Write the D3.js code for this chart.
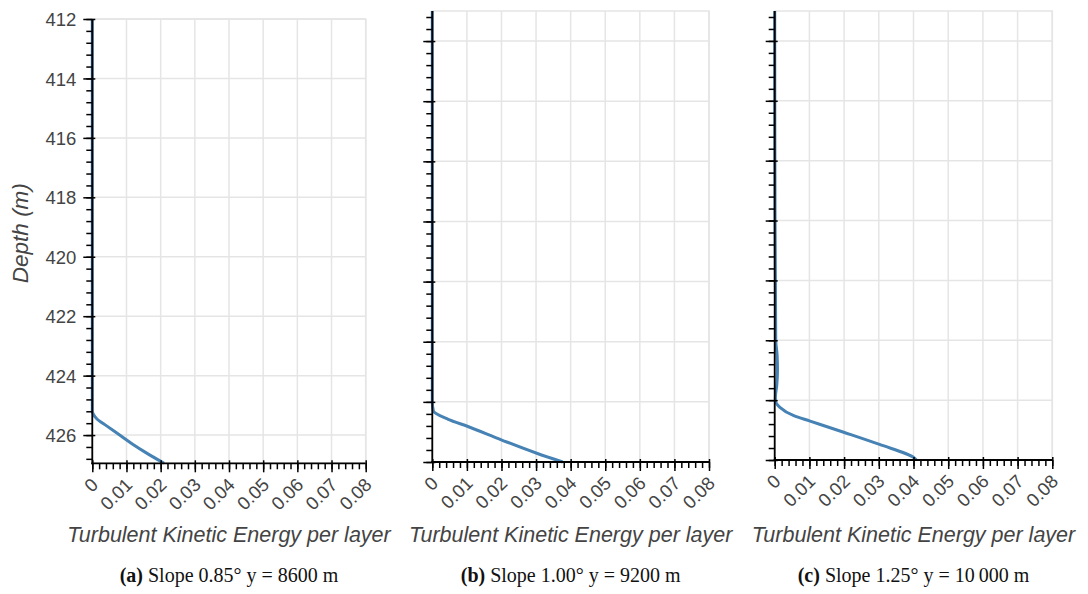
<!DOCTYPE html>
<html>
<head>
<meta charset="utf-8">
<script src="https://cdn.jsdelivr.net/npm/d3@7"></script>
<style>
  html, body { margin: 0; padding: 0; background: #fff; }
  svg { display: block; }
  .tick text { font-family: "Liberation Sans", Arial, Helvetica, sans-serif; fill: #444; }
  .axis-title { font-family: "Liberation Sans", Arial, Helvetica, sans-serif; font-style: italic; fill: #444; }
  .caption { font-family: "Liberation Serif", "DejaVu Serif", serif; fill: #111; font-variant-numeric: oldstyle-nums; }
</style>
</head>
<body>
<svg id="chart" width="1088" height="594"></svg>
<script>
// Turbulent kinetic energy profiles near the bed, one per slope case.
const depthA = [412, 424, 425.2, 425.3, 425.45, 425.7, 426.0, 426.3, 426.6, 426.95];
const tkeA   = [0, 0, 0, 0.0003, 0.0013, 0.0043, 0.0080, 0.0117, 0.0158, 0.0210];

const depthB = [413, 426.0, 426.3, 426.58, 426.82, 427.27, 427.71, 428];
const tkeB   = [0, 0, 0.0003, 0.0046, 0.0103, 0.0201, 0.0302, 0.0377];

const depthC = [413, 420, 424.0, 424.5, 425.0, 425.5, 425.9, 426.0, 426.24, 426.52, 426.70, 427.08, 427.48, 427.92, 428];
const tkeC   = [0, 0.0001, 0.0003, 0.0007, 0.0008, 0.0006, 0.0002, 0.0002, 0.0015, 0.0055, 0.0102, 0.0201, 0.0302, 0.0401, 0.0408];

const xTicks = [0, 0.01, 0.02, 0.03, 0.04, 0.05, 0.06, 0.07, 0.08];
const xTickLabels = ["0", "0.01", "0.02", "0.03", "0.04", "0.05", "0.06", "0.07", "0.08"];
const yTicksA = [412, 414, 416, 418, 420, 422, 424, 426];
const yTicksBC = [414, 416, 418, 420, 422, 424, 426, 428];

const xTitle = "Turbulent Kinetic Energy per layer";
const yTitle = "Depth (m)";
const captionLetters = ["(a)", "(b)", "(c)"];
const captionTexts = [" Slope 0.85° y = 8600 m", " Slope 1.00° y = 9200 m", " Slope 1.25° y = 10\u2009000 m"];

// Frame geometry for the three side-by-side panels.
const panels = [
  { depth: depthA, tke: tkeA, yDomain: [412, 426.95], yTicks: yTicksA, labels: true,
    left: 92.3, right: 365.7, top: 19, bottom: 463.3 },
  { depth: depthB, tke: tkeB, yDomain: [413, 428], yTicks: yTicksBC, labels: false,
    left: 432.3, right: 709, top: 11, bottom: 462 },
  { depth: depthC, tke: tkeC, yDomain: [413, 428], yTicks: yTicksBC, labels: false,
    left: 774.7, right: 1052.3, top: 11, bottom: 460 }
];

const svg = d3.select("#chart");
const gridColor = "#e5e5e5";
const lineColor = "#4682b4";

function minorValues(domain, step) {
  const out = [];
  const start = Math.ceil(domain[0] / step - 1e-6);
  const end = Math.floor(domain[1] / step + 1e-6);
  for (let i = start; i <= end; i++) out.push(+(i * step).toFixed(6));
  return out;
}

panels.forEach((p, i) => {
  const x = d3.scaleLinear().domain([0, 0.08]).range([p.left, p.right]);
  const y = d3.scaleLinear().domain(p.yDomain).range([p.top, p.bottom]);
  const g = svg.append("g");

  // grid
  g.append("g").selectAll("line").data(xTicks).join("line")
    .attr("x1", d => x(d)).attr("x2", d => x(d))
    .attr("y1", p.top).attr("y2", p.bottom)
    .attr("stroke", gridColor).attr("stroke-width", 1.5);
  g.append("g").selectAll("line").data(p.yTicks.filter(v => v >= p.yDomain[0] && v <= p.yDomain[1])).join("line")
    .attr("x1", p.left).attr("x2", p.right)
    .attr("y1", d => y(d)).attr("y2", d => y(d))
    .attr("stroke", gridColor).attr("stroke-width", 1.5);
  g.append("rect")
    .attr("x", p.left).attr("y", p.top)
    .attr("width", p.right - p.left).attr("height", p.bottom - p.top)
    .attr("fill", "none").attr("stroke", gridColor).attr("stroke-width", 1.5);

  // profile
  const pts = p.depth.map((d, k) => [p.tke[k], d]);
  g.append("path")
    .datum(pts)
    .attr("fill", "none")
    .attr("stroke", lineColor)
    .attr("stroke-width", 3)
    .attr("stroke-linejoin", "round")
    .attr("d", d3.line().x(d => x(d[0])).y(d => y(d[1])).curve(d3.curveMonotoneY));

  // minor ticks
  g.append("g")
    .attr("transform", `translate(0,${p.bottom})`)
    .call(d3.axisBottom(x).tickValues(minorValues([0, 0.08], 0.002)).tickSize(6).tickFormat(""))
    .call(s => s.select(".domain").remove())
    .call(s => s.selectAll("line").attr("stroke", "#000").attr("stroke-width", 1.5));
  g.append("g")
    .attr("transform", `translate(${p.left},0)`)
    .call(d3.axisLeft(y).tickValues(minorValues(p.yDomain, 0.4)).tickSize(6).tickFormat(""))
    .call(s => s.select(".domain").remove())
    .call(s => s.selectAll("line").attr("stroke", "#000").attr("stroke-width", 1.5));

  // x axis
  const xa = g.append("g")
    .attr("transform", `translate(0,${p.bottom})`)
    .call(d3.axisBottom(x).tickValues(xTicks).tickSizeOuter(0).tickSize(9)
      .tickFormat((d, k) => xTickLabels[k]));
  xa.select(".domain").attr("stroke", "#000").attr("stroke-width", 1.8)
    .attr("d", `M${p.left - 1},0H${p.right}`);
  xa.selectAll(".tick line").attr("stroke", "#000").attr("stroke-width", 1.5).attr("y1", -3);
  xa.selectAll(".tick text")
    .attr("font-size", 18.5)
    .attr("text-anchor", "end")
    .attr("x", 0).attr("y", 0).attr("dy", "0.35em")
    .attr("transform", "translate(2,18) rotate(-45)");

  // y axis
  const ya = g.append("g")
    .attr("transform", `translate(${p.left},0)`)
    .call(d3.axisLeft(y).tickValues(p.yTicks).tickSizeOuter(0).tickSize(9)
      .tickFormat(p.labels ? (d => String(d)) : ""));
  ya.select(".domain").attr("stroke", "#000").attr("stroke-width", 1.8)
    .attr("d", `M0,${p.top}V${p.bottom + 1}`);
  ya.selectAll(".tick line").attr("stroke", "#000").attr("stroke-width", 1.5).attr("x1", 3);
  ya.selectAll(".tick text").attr("font-size", 18.5).attr("x", -16).attr("dy", "0.36em");

  // axis titles
  g.append("text").attr("class", "axis-title")
    .attr("x", (p.left + p.right) / 2).attr("y", 542)
    .attr("text-anchor", "middle").attr("font-size", 21.5)
    .text(xTitle);
  if (p.labels) {
    g.append("text").attr("class", "axis-title")
      .attr("transform", `translate(28,${(p.top + p.bottom) / 2 - 8}) rotate(-90)`)
      .attr("text-anchor", "middle").attr("font-size", 22.5)
      .text(yTitle);
  }

  // caption
  const cap = g.append("text").attr("class", "caption")
    .attr("x", (p.left + p.right) / 2).attr("y", 582)
    .attr("text-anchor", "middle").attr("font-size", 20);
  cap.append("tspan").attr("font-weight", "bold").text(captionLetters[i]);
  cap.append("tspan").text(captionTexts[i]);
});
</script>
</body>
</html>
